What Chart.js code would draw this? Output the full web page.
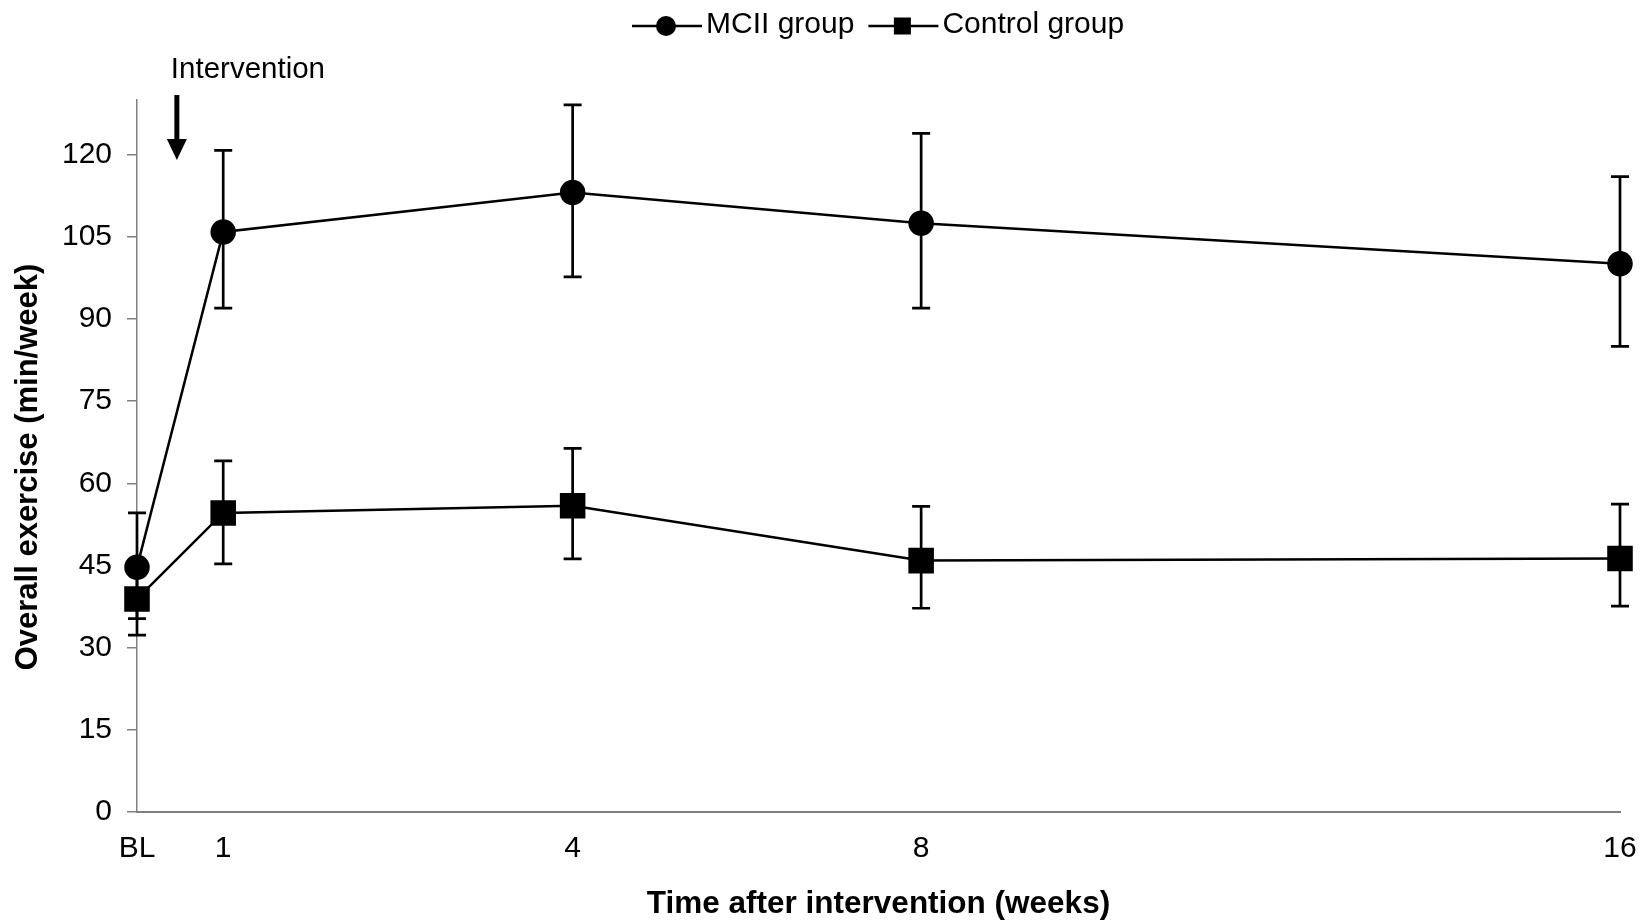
<!DOCTYPE html>
<html>
<head>
<meta charset="utf-8">
<script src="https://cdn.jsdelivr.net/npm/chart.js@4.4.1/dist/chart.umd.min.js"></script>
<style>
  html, body { margin: 0; padding: 0; background: #fff; }
</style>
</head>
<body>
<canvas id="chart" width="1648" height="922"></canvas>
<script>
// time points (assessment time in weeks after intervention, BL = baseline)
const xLabels = ['BL', '1', '4', '8', '16'];
const xWeeks = [0, 0.93, 4.70, 8.46, 16];
const yTicks = [0, 15, 30, 45, 60, 75, 90, 105, 120];

// MCII group: mean and error bar ends (min/week)
const mciMean = [44.7, 105.9, 113.1, 107.5, 100.1];
const mciUpper = [54.6, 120.8, 129.1, 123.9, 116.0];
const mciLower = [35.3, 92.0, 97.7, 92.0, 85.0];

// Control group
const ctrlMean = [38.9, 54.6, 55.9, 45.9, 46.3];
const ctrlUpper = [45.5, 64.1, 66.4, 55.8, 56.2];
const ctrlLower = [32.3, 45.3, 46.2, 37.2, 37.6];

const interventionWeek = 0.43;

const FONT = '"Liberation Sans", Arial, sans-serif';
Chart.defaults.font.family = FONT;
Chart.defaults.color = '#000';

function toPoints(means) {
    return xWeeks.map((w, i) => ({ x: w, y: means[i] }));
}

const errorBars = {
    id: 'errorBars',
    beforeDatasetsDraw(chart) {
        const { ctx, scales: { x, y } } = chart;
        ctx.save();
        ctx.strokeStyle = '#000';
        ctx.lineWidth = 2.7;
        chart.data.datasets.forEach(ds => {
            ds.data.forEach((p, i) => {
                const px = x.getPixelForValue(p.x);
                const top = y.getPixelForValue(ds.upper[i]);
                const bot = y.getPixelForValue(ds.lower[i]);
                ctx.beginPath();
                ctx.moveTo(px, top);
                ctx.lineTo(px, bot);
                ctx.moveTo(px - 9, top);
                ctx.lineTo(px + 9, top);
                ctx.moveTo(px - 9, bot);
                ctx.lineTo(px + 9, bot);
                ctx.stroke();
            });
        });
        ctx.restore();
    }
};

// legend (line + marker + line), y title and the intervention arrow
const extras = {
    id: 'extras',
    afterDraw(chart) {
        const { ctx, chartArea, scales: { x } } = chart;
        ctx.save();
        ctx.fillStyle = '#000';
        ctx.strokeStyle = '#000';
        ctx.font = '30px ' + FONT;
        ctx.textBaseline = 'middle';
        ctx.textAlign = 'left';

        let lx = 632;
        const ly = 25;
        chart.data.datasets.forEach(ds => {
            ctx.lineWidth = 2.5;
            ctx.beginPath();
            ctx.moveTo(lx, ly + 1);
            ctx.lineTo(lx + 70, ly + 1);
            ctx.stroke();
            if (ds.pointStyle === 'circle') {
                ctx.beginPath();
                ctx.arc(lx + 34, ly + 1, 10, 0, Math.PI * 2);
                ctx.fill();
            } else {
                ctx.fillRect(lx + 34 - 8.5, ly + 1 - 8.5, 17, 17);
            }
            ctx.fillText(ds.label, lx + 74, ly);
            lx += 74 + ctx.measureText(ds.label).width + 14;
        });

        const ax = x.getPixelForValue(interventionWeek);
        ctx.textBaseline = 'alphabetic';
        ctx.font = '29.5px ' + FONT;
        ctx.fillText('Intervention', ax - 6, 78);
        ctx.lineWidth = 5;
        ctx.beginPath();
        ctx.moveTo(ax, 95);
        ctx.lineTo(ax, 142);
        ctx.stroke();
        ctx.beginPath();
        ctx.moveTo(ax - 10, 139);
        ctx.lineTo(ax + 10, 139);
        ctx.lineTo(ax, 160);
        ctx.closePath();
        ctx.fill();

        // y axis title
        ctx.translate(28, (chartArea.top + chartArea.bottom) / 2 + 11);
        ctx.rotate(-Math.PI / 2);
        ctx.font = 'bold 31px ' + FONT;
        ctx.textAlign = 'center';
        ctx.textBaseline = 'middle';
        ctx.fillText('Overall exercise (min/week)', 0, 0);
        ctx.restore();
    }
};

new Chart(document.getElementById('chart').getContext('2d'), {
    type: 'line',
    data: {
        datasets: [
            {
                label: 'MCII group',
                data: toPoints(mciMean),
                upper: mciUpper,
                lower: mciLower,
                borderColor: '#000',
                backgroundColor: '#000',
                borderWidth: 2.5,
                pointStyle: 'circle',
                pointRadius: 11.5,
                pointHoverRadius: 11.5,
                clip: false
            },
            {
                label: 'Control group',
                data: toPoints(ctrlMean),
                upper: ctrlUpper,
                lower: ctrlLower,
                borderColor: '#000',
                backgroundColor: '#000',
                borderWidth: 2.5,
                pointStyle: 'rect',
                pointRadius: 16.3,
                pointHoverRadius: 16.3,
                clip: false
            }
        ]
    },
    options: {
        responsive: false,
        devicePixelRatio: 1,
        animation: false,
        events: [],
        layout: { padding: { top: 100, right: 28, left: 0, bottom: 0 } },
        plugins: {
            legend: { display: false },
            tooltip: { enabled: false }
        },
        scales: {
            x: {
                type: 'linear',
                min: 0,
                max: 16,
                afterBuildTicks: s => { s.ticks = xWeeks.map(v => ({ value: v })); },
                afterFit: s => { s.height = 110; },
                ticks: {
                    callback: (v, i) => xLabels[i],
                    font: { size: 30 },
                    color: '#000',
                    padding: 11,
                    maxRotation: 0,
                    autoSkip: false
                },
                grid: { display: false },
                border: { display: true, color: '#808080', width: 2 },
                title: {
                    display: true,
                    text: 'Time after intervention (weeks)',
                    font: { size: 31.5, weight: 'bold' },
                    color: '#000',
                    padding: { top: 0, bottom: -1 }
                }
            },
            y: {
                type: 'linear',
                min: 0,
                max: 130,
                afterBuildTicks: s => { s.ticks = yTicks.map(v => ({ value: v })); },
                afterFit: s => { s.width = 137; },
                ticks: {
                    font: { size: 30 },
                    color: '#000',
                    padding: 15
                },
                grid: {
                    drawOnChartArea: false,
                    drawTicks: true,
                    tickLength: 10,
                    color: '#808080',
                    lineWidth: 1.5
                },
                border: { color: '#808080', width: 1.5 },
                title: { display: false }
            }
        }
    },
    plugins: [errorBars, extras]
});
</script>
</body>
</html>
